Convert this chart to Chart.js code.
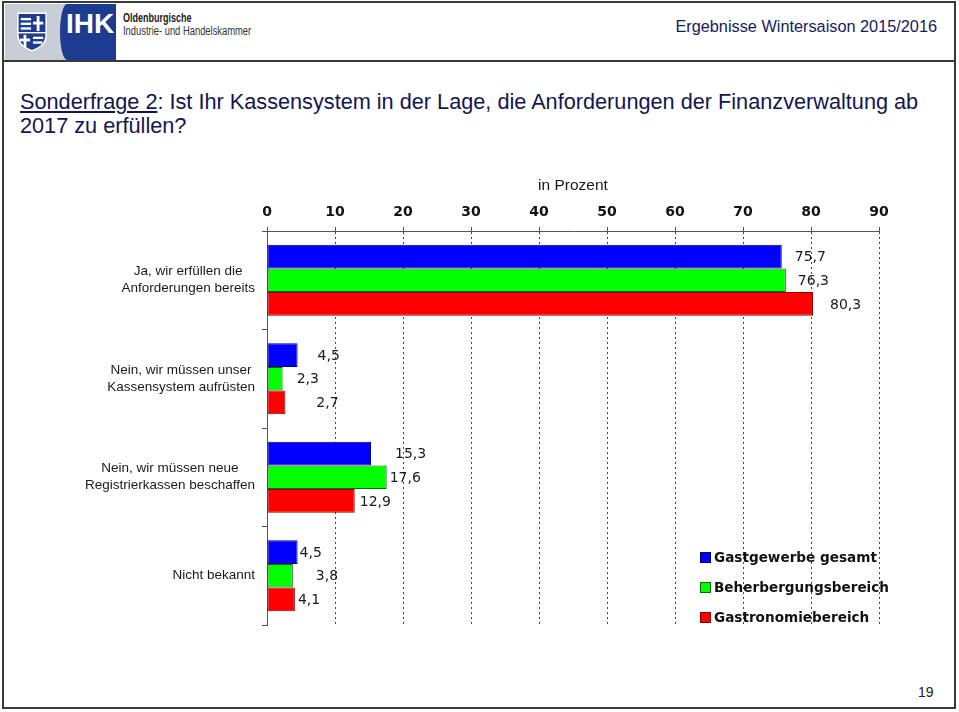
<!DOCTYPE html>
<html>
<head>
<meta charset="utf-8">
<script src="https://cdn.jsdelivr.net/npm/chart.js@4.4.1/dist/chart.umd.min.js"></script>
<style>
  html, body { margin: 0; padding: 0; background: #fff; }
  body { width: 959px; height: 712px; position: relative; overflow: hidden; font-family: "Liberation Sans", Arial, sans-serif; }
  #frame { position: absolute; left: 2px; top: 1px; width: 950px; height: 704px; border: 2px solid #3a3a3a; }
  #sep { position: absolute; left: 2px; top: 60px; width: 954px; height: 2px; background: #3a3a3a; }
  #logoGrey { position: absolute; left: 5px; top: 4px; width: 70px; height: 56px; background: #c9ced6; }
  #logoBlue { position: absolute; left: 60px; top: 4px; width: 56px; height: 56px; background: #1d3c8f; border-top-left-radius: 14px 56px; border-bottom-left-radius: 14px 56px; }
  #ihk { position: absolute; left: 66px; top: 8px; color: #fff; font: bold 28px "Liberation Sans", Arial, sans-serif; }
  .org { position: absolute; left: 123px; white-space: nowrap; transform-origin: left center; }
  #org1 { top: 11px; font: bold 12.5px "Liberation Sans", Arial, sans-serif; color: #1a1a1a; transform: scaleX(0.72); }
  #org2 { top: 24px; font: 12.5px "Liberation Sans", Arial, sans-serif; color: #333; transform: scaleX(0.75); }
  #ergeb { position: absolute; right: 22px; top: 17px; font: 16.3px "Liberation Sans", Arial, sans-serif; color: #141c5a; }
  #title { position: absolute; left: 20px; top: 90px; width: 935px; white-space: nowrap; font: 21.7px/24px "Liberation Sans", Arial, sans-serif; color: #121650; }
  #title u { text-decoration: underline; }
  #page { position: absolute; left: 918px; top: 684px; font: 14px "Liberation Sans", Arial, sans-serif; color: #222; }
  #chartWrap { position: absolute; left: 0; top: 0; width: 959px; height: 712px; }
  #legend { position: absolute; left: 700px; top: 547px; font: bold 13.6px "DejaVu Sans", Verdana, sans-serif; color: #111; }
  .li { position: relative; height: 30px; line-height: 20px; }
  .sw { position: absolute; left: 0; top: 5px; width: 9px; height: 9px; border: 1px solid #333; }
  .lt { position: absolute; left: 14px; top: 0; white-space: nowrap; }
</style>
</head>
<body>
<div id="frame"></div>
<div id="sep"></div>
<div id="logoGrey"></div>
<svg style="position:absolute;left:17px;top:12px" width="30" height="40" viewBox="0 0 32 42">
  <path d="M1 1 H31 V24 Q31 36 16 41 Q1 36 1 24 Z" fill="#1d3c8f" stroke="#fff" stroke-width="1.5"/>
  <rect x="4" y="6" width="11" height="2.5" fill="#fff"/>
  <rect x="4" y="11" width="11" height="2.5" fill="#fff"/>
  <rect x="4" y="16" width="11" height="2.5" fill="#fff"/>
  <rect x="21" y="4" width="3" height="16" fill="#fff"/>
  <rect x="17" y="10" width="11" height="3" fill="#fff"/>
  <rect x="1" y="21" width="30" height="1.5" fill="#fff"/>
  <rect x="7" y="24" width="3" height="13" fill="#fff"/>
  <rect x="3" y="28" width="11" height="3" fill="#fff"/>
  <rect x="17" y="26" width="11" height="2.5" fill="#fff"/>
  <rect x="17" y="31" width="10" height="2.5" fill="#fff"/>
</svg>
<div id="logoBlue"></div>
<div id="ihk">IHK</div>
<div id="org1" class="org">Oldenburgische</div>
<div id="org2" class="org">Industrie- und Handelskammer</div>
<div id="ergeb">Ergebnisse Wintersaison 2015/2016</div>
<div id="title"><u>Sonderfrage 2</u>: Ist Ihr Kassensystem in der Lage, die Anforderungen der Finanzverwaltung ab<br>2017 zu erfüllen?</div>
<div id="page">19</div>
<div id="chartWrap"><canvas id="c" width="959" height="712"></canvas></div>
<div id="legend"></div>

<script>
// ---- data ----
const categories = [
  ["Ja, wir erfüllen die", "Anforderungen bereits"],
  ["Nein, wir müssen unser", "Kassensystem aufrüsten"],
  ["Nein, wir müssen neue", "Registrierkassen beschaffen"],
  ["Nicht bekannt"]
];
const seriesNames = ["Gastgewerbe gesamt", "Beherbergungsbereich", "Gastronomiebereich"];
const gesamt = [75.7, 4.5, 15.3, 4.5];
const beherbergung = [76.3, 2.3, 17.6, 3.8];
const gastronomie = [80.3, 2.7, 12.9, 4.1];
const xTickValues = [0, 10, 20, 30, 40, 50, 60, 70, 80, 90];
const axisTitle = "in Prozent";

// ---- styles ----
const fills = ["#0000ff", "#00ff00", "#ff0000"];
const borders = ["#00007a", "#0a6a0a", "#8a0000"];
// horizontal gap (px) between bar end and its value label, as in the original
const labelGap = [
  [13, 20, 24, 2],
  [12, 14, 3, 23],
  [17, 31, 5, 3]
];

const fmt = v => v.toFixed(1).replace(".", ",");

const valueLabels = {
  id: "valueLabels",
  afterDatasetsDraw(chart) {
    const ctx = chart.ctx;
    ctx.save();
    ctx.font = '14px "DejaVu Sans", Verdana, sans-serif';
    ctx.fillStyle = "#1a1a1a";
    ctx.textAlign = "left";
    ctx.textBaseline = "middle";
    chart.data.datasets.forEach((ds, di) => {
      const meta = chart.getDatasetMeta(di);
      meta.data.forEach((bar, i) => {
        ctx.fillText(fmt(ds.data[i]), bar.x + labelGap[di][i], bar.y + 1);
      });
    });
    ctx.restore();
  }
};

const catLabels = {
  id: "catLabels",
  afterDraw(chart) {
    const ctx = chart.ctx;
    const ys = chart.scales.y;
    const rightX = chart.chartArea.left - 12;
    const lh = 17;
    ctx.save();
    ctx.font = '13.5px "Liberation Sans", Arial, sans-serif';
    ctx.fillStyle = "#1a1a1a";
    ctx.textAlign = "center";
    ctx.textBaseline = "middle";
    categories.forEach((lines, i) => {
      const yc = ys.getPixelForTick(i);
      const w = Math.max(...lines.map(l => ctx.measureText(l).width));
      const cx = rightX - w / 2;
      const y0 = yc - (lines.length - 1) * lh / 2;
      lines.forEach((l, k) => ctx.fillText(l, cx, y0 + k * lh));
    });
    ctx.restore();
  }
};

const chart = new Chart(document.getElementById("c"), {
  type: "bar",
  data: {
    labels: categories,
    datasets: [gesamt, beherbergung, gastronomie].map((d, i) => ({
      label: seriesNames[i],
      data: d,
      backgroundColor: fills[i],
      borderColor: borders[i],
      borderWidth: 1,
      borderSkipped: false,
      barPercentage: 1.0,
      categoryPercentage: 0.72
    }))
  },
  options: {
    indexAxis: "y",
    responsive: false,
    animation: false,
    devicePixelRatio: 1,
    layout: { padding: { left: 0, right: 80, top: 165, bottom: 87 } },
    plugins: { legend: { display: false }, tooltip: { enabled: false } },
    scales: {
      x: {
        position: "top",
        min: 0,
        max: 90,
        afterBuildTicks(scale) { scale.ticks = xTickValues.map(v => ({ value: v })); },
        afterFit(scale) { scale.height = 66; },
        title: {
          display: true,
          text: axisTitle,
          font: { family: '"Liberation Sans", Arial, sans-serif', size: 15.5 },
          color: "#1a1a1a",
          padding: { top: 11, bottom: 0 }
        },
        ticks: {
          font: { family: '"DejaVu Sans", Verdana, sans-serif', size: 14, weight: "bold" },
          color: "#111",
          padding: 6,
          maxRotation: 0
        },
        grid: {
          color: "#444",
          lineWidth: 1,
          tickLength: 4,
          tickColor: "#555",
          tickBorderDash: []
        },
        border: { display: true, color: "#555", width: 1, dash: [2, 3] }
      },
      y: {
        afterFit(scale) { scale.width = 267; },
        ticks: { display: false },
        grid: {
          offset: true,
          drawOnChartArea: false,
          drawTicks: true,
          tickLength: 5,
          color: "#555"
        },
        border: { display: true, color: "#555", width: 1 }
      }
    }
  },
  plugins: [valueLabels, catLabels]
});

// legend from datasets
const lg = document.getElementById("legend");
chart.data.datasets.forEach(ds => {
  const d = document.createElement("div");
  d.className = "li";
  d.innerHTML = '<span class="sw" style="background:' + ds.backgroundColor + ';border-color:' + ds.borderColor + '"></span><span class="lt">' + ds.label + '</span>';
  lg.appendChild(d);
});
</script>
</body>
</html>
